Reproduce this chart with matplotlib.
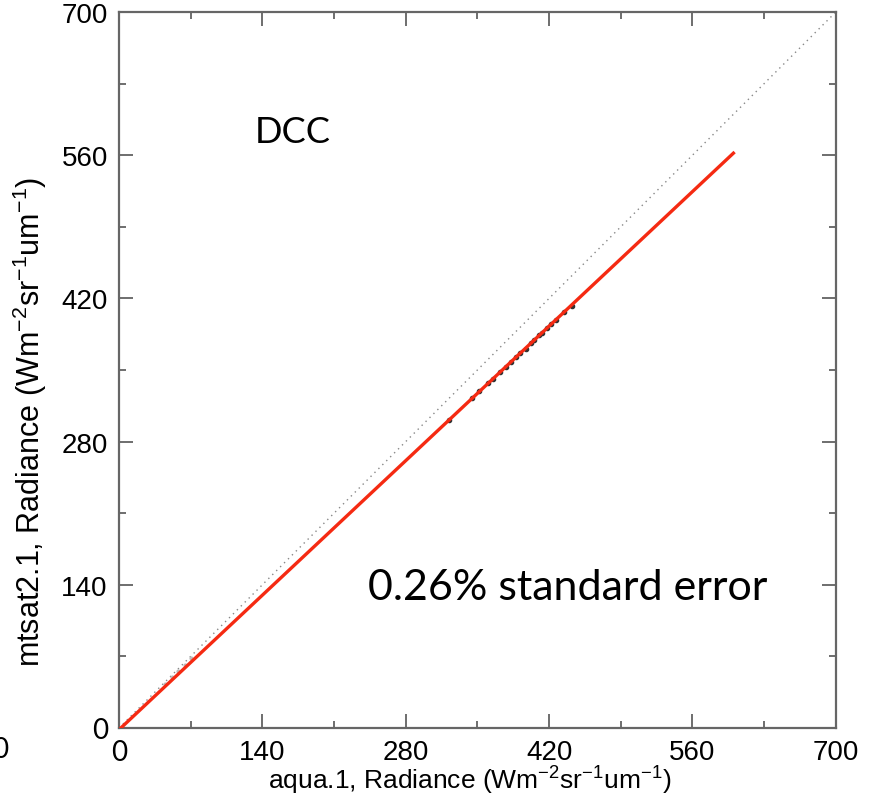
import matplotlib
matplotlib.use("Agg")
import matplotlib.pyplot as plt
import numpy as np

plt.rcParams['font.family'] = ['Liberation Sans', 'DejaVu Sans']
plt.rcParams['mathtext.fontset'] = 'custom'
plt.rcParams['mathtext.rm'] = 'Liberation Sans'
plt.rcParams['mathtext.it'] = 'Liberation Sans'

# collocated DCC radiances, aqua band 1 vs mtsat2 band 1
aqua_rad = [322, 345, 352, 360, 365, 372, 378, 383, 388, 392,
            397, 402, 405, 410, 413, 418, 422, 427, 435, 442]
mtsat_rad = [301, 323, 329, 337, 341, 348, 353, 358, 363, 367,
             371, 376, 379, 384, 386, 391, 395, 399, 407, 413]
# faint low-radiance samples
aqua_low = [45, 52, 58, 64, 70]
mtsat_low = [43, 50, 56, 62, 68]

# regression line
fit_slope = 0.9395
fit_intercept = -1.7
fit_xmax = 600

ticks = [0, 140, 280, 420, 560, 700]
minor = [70, 210, 350, 490, 630]

fig = plt.figure(figsize=(8.71, 8.04), dpi=100)
ax = fig.add_axes([0.1366, 0.0933, 0.823, 0.8905])

ax.plot([0, 700], [0, 700], linestyle=(0, (1, 3)), color='#888888', lw=1.0)
ax.scatter(aqua_low, mtsat_low, s=4, color='#bbbbbb', marker='o', zorder=2)
ax.scatter(aqua_rad, mtsat_rad, s=9, color='#333333', marker='o', zorder=2)
xf = np.array([0, fit_xmax])
ax.plot(xf, fit_slope * xf + fit_intercept, color='#f52a12', lw=2.4, zorder=3)

ax.set_xlim(0, 700)
ax.set_ylim(0, 700)
ax.set_xticks(ticks)
ax.set_yticks(ticks)
ax.set_xticks(minor, minor=True)
ax.set_yticks(minor, minor=True)
ax.tick_params(which='both', direction='in', top=True, right=True,
               color='#555555', width=1.2, labelsize=20, pad=8)
ax.tick_params(which='major', length=10)
ax.tick_params(which='minor', length=5)
for s in ax.spines.values():
    s.set_color('#666666')
    s.set_linewidth(1.6)

for lab in (ax.get_xticklabels()[0], ax.get_yticklabels()[0]):
    lab.set_fontfamily('Lato')

unit = r'(Wm$^{-2}$sr$^{-1}$um$^{-1}$)'
ax.set_xlabel('aqua.1, Radiance ' + unit, fontsize=19)
ax.xaxis.set_label_coords(0.49, -0.05)
ax.set_ylabel('mtsat2.1, Radiance ' + unit, fontsize=22)
ax.yaxis.set_label_coords(-0.098, 0.429)

ax.text(0.19, 0.818, 'DCC', transform=ax.transAxes, fontsize=26,
        family='Lato', ha='left', va='baseline')
ax.text(0.347, 0.18, '0.26% standard error', transform=ax.transAxes,
        fontsize=31, family='Lato', ha='left', va='baseline')

fig.text(-0.009, 0.067, '0', fontsize=20, family='Lato', ha='left', va='center')

fig.savefig('out.png', dpi=100)
